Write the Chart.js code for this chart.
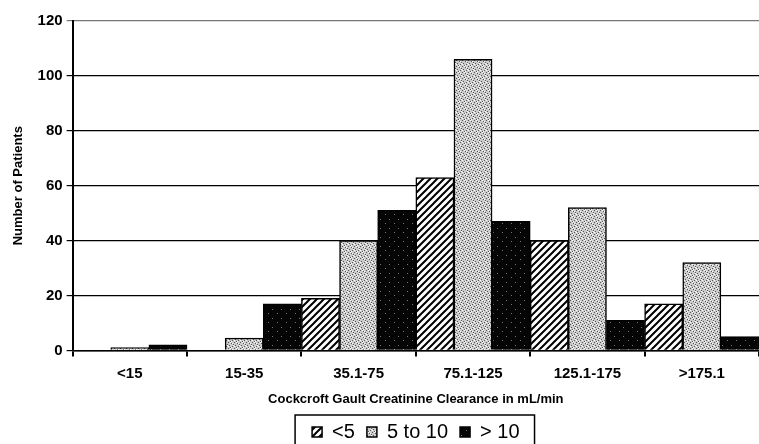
<!DOCTYPE html>
<html>
<head>
<meta charset="utf-8">
<script src="https://cdn.jsdelivr.net/npm/chart.js@4"></script>
<style>
  body { margin: 0; background: #fff; }
  #wrap { width: 759px; height: 444px; }
</style>
</head>
<body>
<div id="wrap"><canvas id="myChart"></canvas></div>
<script>
// data
const categories = ["<15", "15-35", "35.1-75", "75.1-125", "125.1-175", ">175.1"]
const under5 = [0, 0, 19, 63, 40, 17]
const from5to10 = [1, 4.5, 40, 106, 52, 32]
const over10 = [2, 17, 51, 47, 11, 5]
const yTicks = [0, 20, 40, 60, 80, 100, 120]

const FONT = "Liberation Sans, Arial"

// fill patterns
function makePattern(size, draw) {
  const c = document.createElement("canvas")
  c.width = size
  c.height = size
  const ctx = c.getContext("2d")
  draw(ctx, size)
  return ctx.createPattern(c, "repeat")
}

const hatch = makePattern(7, (ctx, s) => {
  ctx.fillStyle = "#fff"
  ctx.fillRect(0, 0, s, s)
  ctx.strokeStyle = "#000"
  ctx.lineWidth = 2
  ctx.beginPath()
  ctx.moveTo(-1, s + 1)
  ctx.lineTo(s + 1, -1)
  ctx.moveTo(-1 - s, s + 1)
  ctx.lineTo(1, -1)
  ctx.moveTo(s - 1, s + 1)
  ctx.lineTo(2 * s + 1, -1)
  ctx.stroke()
})

const stipple = makePattern(6, (ctx, s) => {
  ctx.fillStyle = "#cbcbcb"
  ctx.fillRect(0, 0, s, s)
  ctx.fillStyle = "#555"
  const dark = [[0, 0], [3, 1], [1, 3], [4, 4], [2, 5], [5, 2]]
  dark.forEach((p) => ctx.fillRect(p[0], p[1], 1, 1))
  ctx.fillStyle = "#fff"
  const light = [[2, 0], [5, 3], [0, 4], [3, 5], [4, 1]]
  light.forEach((p) => ctx.fillRect(p[0], p[1], 1, 1))
})

const darkDots = makePattern(9, (ctx, s) => {
  ctx.fillStyle = "#050505"
  ctx.fillRect(0, 0, s, s)
  ctx.fillStyle = "#777"
  ctx.fillRect(2, 3, 1, 1)
  ctx.fillRect(7, 7, 1, 1)
})

// frame round the legend
const legendFrame = {
  id: "legendFrame",
  afterDraw(chart) {
    const boxes = chart.legend.legendHitBoxes
    if (!boxes || !boxes.length) return
    const ctx = chart.ctx
    const left = Math.min(...boxes.map((b) => b.left)) - 17
    const right = Math.max(...boxes.map((b) => b.left + b.width)) + 15
    const top = Math.min(...boxes.map((b) => b.top)) - 7
    const bottom = Math.max(...boxes.map((b) => b.top + b.height)) + 8
    ctx.save()
    ctx.strokeStyle = "#000"
    ctx.lineWidth = 1.5
    ctx.strokeRect(left, top, right - left, bottom - top)
    ctx.restore()
  },
}

new Chart(document.querySelector("#myChart"), {
  type: "bar",
  data: {
    labels: categories,
    datasets: [
      { label: "<5", data: under5, backgroundColor: hatch },
      { label: "5 to 10", data: from5to10, backgroundColor: stipple },
      { label: "> 10", data: over10, backgroundColor: darkDots },
    ],
  },
  options: {
    responsive: true,
    maintainAspectRatio: false,
    animation: false,
    layout: { padding: { top: 21, right: 0, bottom: -8, left: 11 } },
    datasets: {
      bar: {
        categoryPercentage: 1,
        barPercentage: 1,
        borderColor: "#000",
        borderWidth: 1.5,
      },
    },
    scales: {
      x: {
        grid: {
          drawOnChartArea: false,
          drawTicks: true,
          tickLength: 6,
          color: "#000",
          lineWidth: 2,
        },
        border: { color: "#000", width: 1.5 },
        ticks: {
          color: "#000",
          font: { family: FONT, size: 15, weight: "bold" },
          padding: 8,
        },
        title: {
          display: true,
          text: "Cockcroft Gault Creatinine Clearance in mL/min",
          color: "#000",
          font: { family: FONT, size: 13, weight: "bold" },
          padding: { top: 1, bottom: 3 },
        },
      },
      y: {
        min: 0,
        max: 120,
        afterBuildTicks: (axis) => {
          axis.ticks = yTicks.map((v) => ({ value: v }))
        },
        grid: {
          color: (c) => (c.tick && c.tick.value === 120 ? "#777" : "#000"),
          lineWidth: 1.2,
          tickLength: 6,
        },
        border: { color: "#000", width: 2 },
        ticks: {
          color: "#000",
          font: { family: FONT, size: 15, weight: "bold" },
          padding: 4,
        },
        title: {
          display: true,
          text: "Number of Patients",
          color: "#000",
          font: { family: FONT, size: 13, weight: "bold" },
          padding: { top: 0, bottom: 7 },
        },
      },
    },
    plugins: {
      legend: {
        position: "bottom",
        fullSize: false,
        labels: {
          color: "#000",
          boxWidth: 10,
          boxHeight: 10,
          padding: 12,
          font: { family: FONT, size: 20 },
        },
      },
      tooltip: { enabled: false },
    },
  },
  plugins: [legendFrame],
})
</script>
</body>
</html>
